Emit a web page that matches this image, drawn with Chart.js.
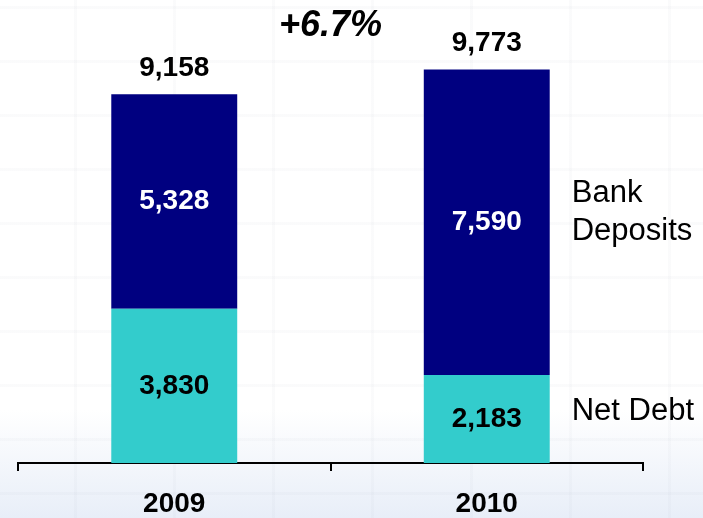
<!DOCTYPE html>
<html>
<head>
<meta charset="utf-8">
<script src="https://cdn.jsdelivr.net/npm/chart.js@4"></script>
<style>
  html, body { margin: 0; padding: 0; }
  body {
    width: 703px;
    height: 518px;
    overflow: hidden;
    background:
      repeating-linear-gradient(to right, transparent 0 74px, rgba(120,130,150,0.035) 74px 77px, transparent 77px 99px),
      repeating-linear-gradient(to bottom, transparent 0 6px, rgba(120,130,150,0.035) 6px 9px, transparent 9px 54px),
      linear-gradient(to bottom, #ffffff 0, #ffffff 410px, #e8eef8 518px);
  }
  canvas { display: block; }
</style>
</head>
<body>
<canvas id="myChart" width="703" height="518"></canvas>
<script>
// Years and the two stacked components
const years = ['2009', '2010'];
const netDebt = [3830, 2183];
const bankDeposits = [5328, 7590];

const navy = '#000080';
const teal = '#33cccc';
const fontFamily = '"Liberation Sans", Arial, sans-serif';

// Totals on top of the stacks, plus the growth figure between them
const totals = years.map((y, i) => netDebt[i] + bankDeposits[i]);
const fmt = v => v.toLocaleString('en-US');

const labelPlugin = {
  id: 'barLabels',
  afterDatasetsDraw(chart) {
    const ctx = chart.ctx;
    const debtBars = chart.getDatasetMeta(0).data;
    const depBars = chart.getDatasetMeta(1).data;
    ctx.save();
    ctx.textAlign = 'center';
    ctx.textBaseline = 'middle';
    ctx.font = 'bold 28px ' + fontFamily;

    debtBars.forEach((bar, i) => {
      ctx.fillStyle = '#000000';
      ctx.fillText(fmt(netDebt[i]), bar.x, (bar.y + bar.base) / 2);
    });
    depBars.forEach((bar, i) => {
      ctx.fillStyle = '#ffffff';
      ctx.fillText(fmt(bankDeposits[i]), bar.x, (bar.y + bar.base) / 2);
      ctx.fillStyle = '#000000';
      ctx.fillText(fmt(totals[i]), bar.x, bar.y - 26);
    });

    // growth between the two totals
    const growth = (totals[1] / totals[0] - 1) * 100;
    ctx.font = 'italic bold 36px ' + fontFamily;
    ctx.fillText('+' + growth.toFixed(1) + '%', (depBars[0].x + depBars[1].x) / 2, 26);

    // series names beside the last bar
    const last = depBars.length - 1;
    const lx = depBars[last].x + depBars[last].width / 2 + 22;
    ctx.textAlign = 'left';
    ctx.font = '31px ' + fontFamily;
    const depMid = (depBars[last].y + depBars[last].base) / 2 - 10;
    ctx.fillText('Bank', lx, depMid - 19);
    ctx.fillText('Deposits', lx, depMid + 19);
    const debtMid = (debtBars[last].y + debtBars[last].base) / 2 - 8;
    ctx.fillText('Net Debt', lx, debtMid);
    ctx.restore();
  }
};

const ctx = document.getElementById('myChart').getContext('2d');
const myChart = new Chart(ctx, {
  type: 'bar',
  data: {
    labels: years,
    datasets: [
      {
        label: 'Net Debt',
        data: netDebt,
        backgroundColor: teal,
        categoryPercentage: 1,
        barPercentage: 0.403
      },
      {
        label: 'Bank Deposits',
        data: bankDeposits,
        backgroundColor: navy,
        categoryPercentage: 1,
        barPercentage: 0.403
      }
    ]
  },
  options: {
    responsive: false,
    animation: false,
    layout: { padding: { left: 18, right: 60, top: 0, bottom: 0 } },
    plugins: {
      legend: { display: false },
      tooltip: { enabled: false }
    },
    scales: {
      x: {
        stacked: true,
        border: { display: true, color: '#000000', width: 2 },
        grid: {
          offset: true,
          drawOnChartArea: false,
          drawTicks: true,
          tickLength: 8,
          color: '#000000',
          lineWidth: 2
        },
        ticks: {
          color: '#000000',
          padding: 16,
          font: { family: fontFamily, size: 28, weight: 'bold', lineHeight: 1.2 }
        },
        afterFit(scale) { scale.height = 55; }
      },
      y: {
        stacked: true,
        display: false,
        min: 0,
        max: 11500
      }
    }
  },
  plugins: [labelPlugin]
});
</script>
</body>
</html>
